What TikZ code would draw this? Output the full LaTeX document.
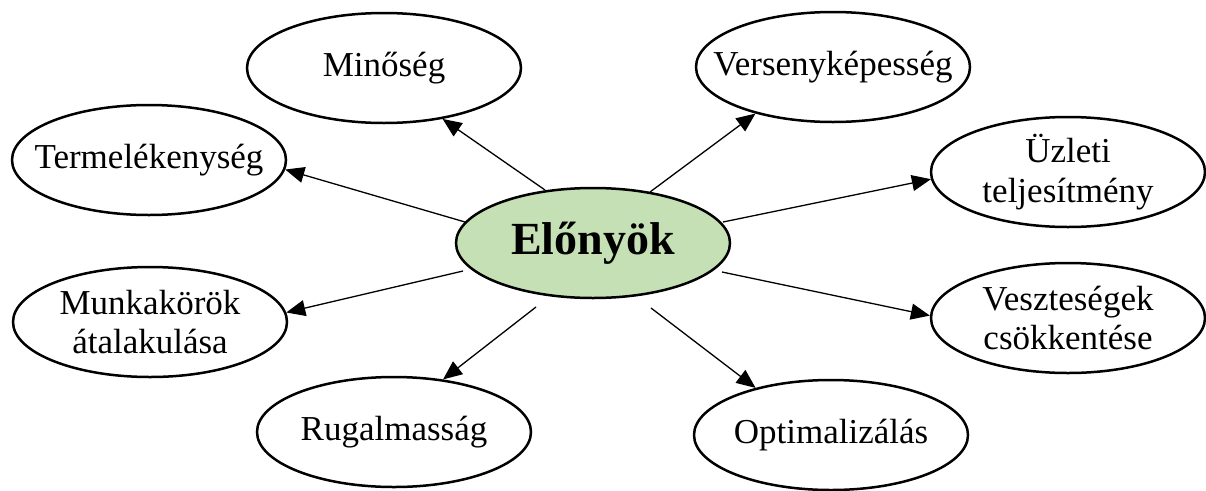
\documentclass[tikz,border=0pt]{standalone}
\usepackage{fontspec}
\setmainfont{Liberation Serif}
\usetikzlibrary{shapes.geometric,arrows.meta}
\tikzset{
  bubble/.style={ellipse, draw=black, line width=2.5pt, fill=white,
    minimum width=274pt, minimum height=110pt, inner xsep=-30pt, inner ysep=-12pt, align=center,
    font=\fontsize{35}{39.5}\selectfont},
  hub/.style={ellipse, draw=black, line width=2.5pt, fill={rgb,255:red,197;green,224;blue,180},
    minimum width=274pt, minimum height=110pt, inner xsep=-30pt, inner ysep=-12pt,
    font=\fontsize{46}{50}\selectfont\bfseries},
  arr/.style={line width=1.3pt, -{Triangle[length=19pt,width=16pt]}}
}
\begin{document}
\begin{tikzpicture}[x=1pt,y=-1pt]
\useasboundingbox (0,0) rectangle (1206,490);
\node[hub] (c) at (593,243) {Előnyök};
\node[bubble] (min) at (384,68) {Minőség};
\node[bubble] (ver) at (833,67) {Versenyképesség};
\node[bubble] (ter) at (149,160) {Termelékenység};
\node[bubble] (uzl) at (1068,172) {Üzleti\\teljesítmény};
\node[bubble] (mun) at (150,322) {Munkakörök\\átalakulása};
\node[bubble] (ves) at (1068,318) {Veszteségek\\csökkentése};
\node[bubble] (rug) at (394,432) {Rugalmasság};
\node[bubble] (opt) at (831,435) {Optimalizálás};
\coordinate (s1) at (545,190);
\coordinate (s2) at (650,192);
\coordinate (s3) at (465,222);
\coordinate (s4) at (723,222);
\coordinate (s5) at (463,271);
\coordinate (s6) at (722,272);
\coordinate (s7) at (536,307);
\coordinate (s8) at (651,308);
\draw[arr] (s1) -- (min.-41);
\draw[arr] (s2) -- (ver.211);
\draw[arr] (s3) -- (ter.-4);
\draw[arr] (s4) -- (uzl.183);
\draw[arr] (s5) -- (mun.4);
\draw[arr] (s6) -- (ves.179);
\draw[arr] (s7) -- (rug.47);
\draw[arr] (s8) -- (opt.148);
\end{tikzpicture}
\end{document}
